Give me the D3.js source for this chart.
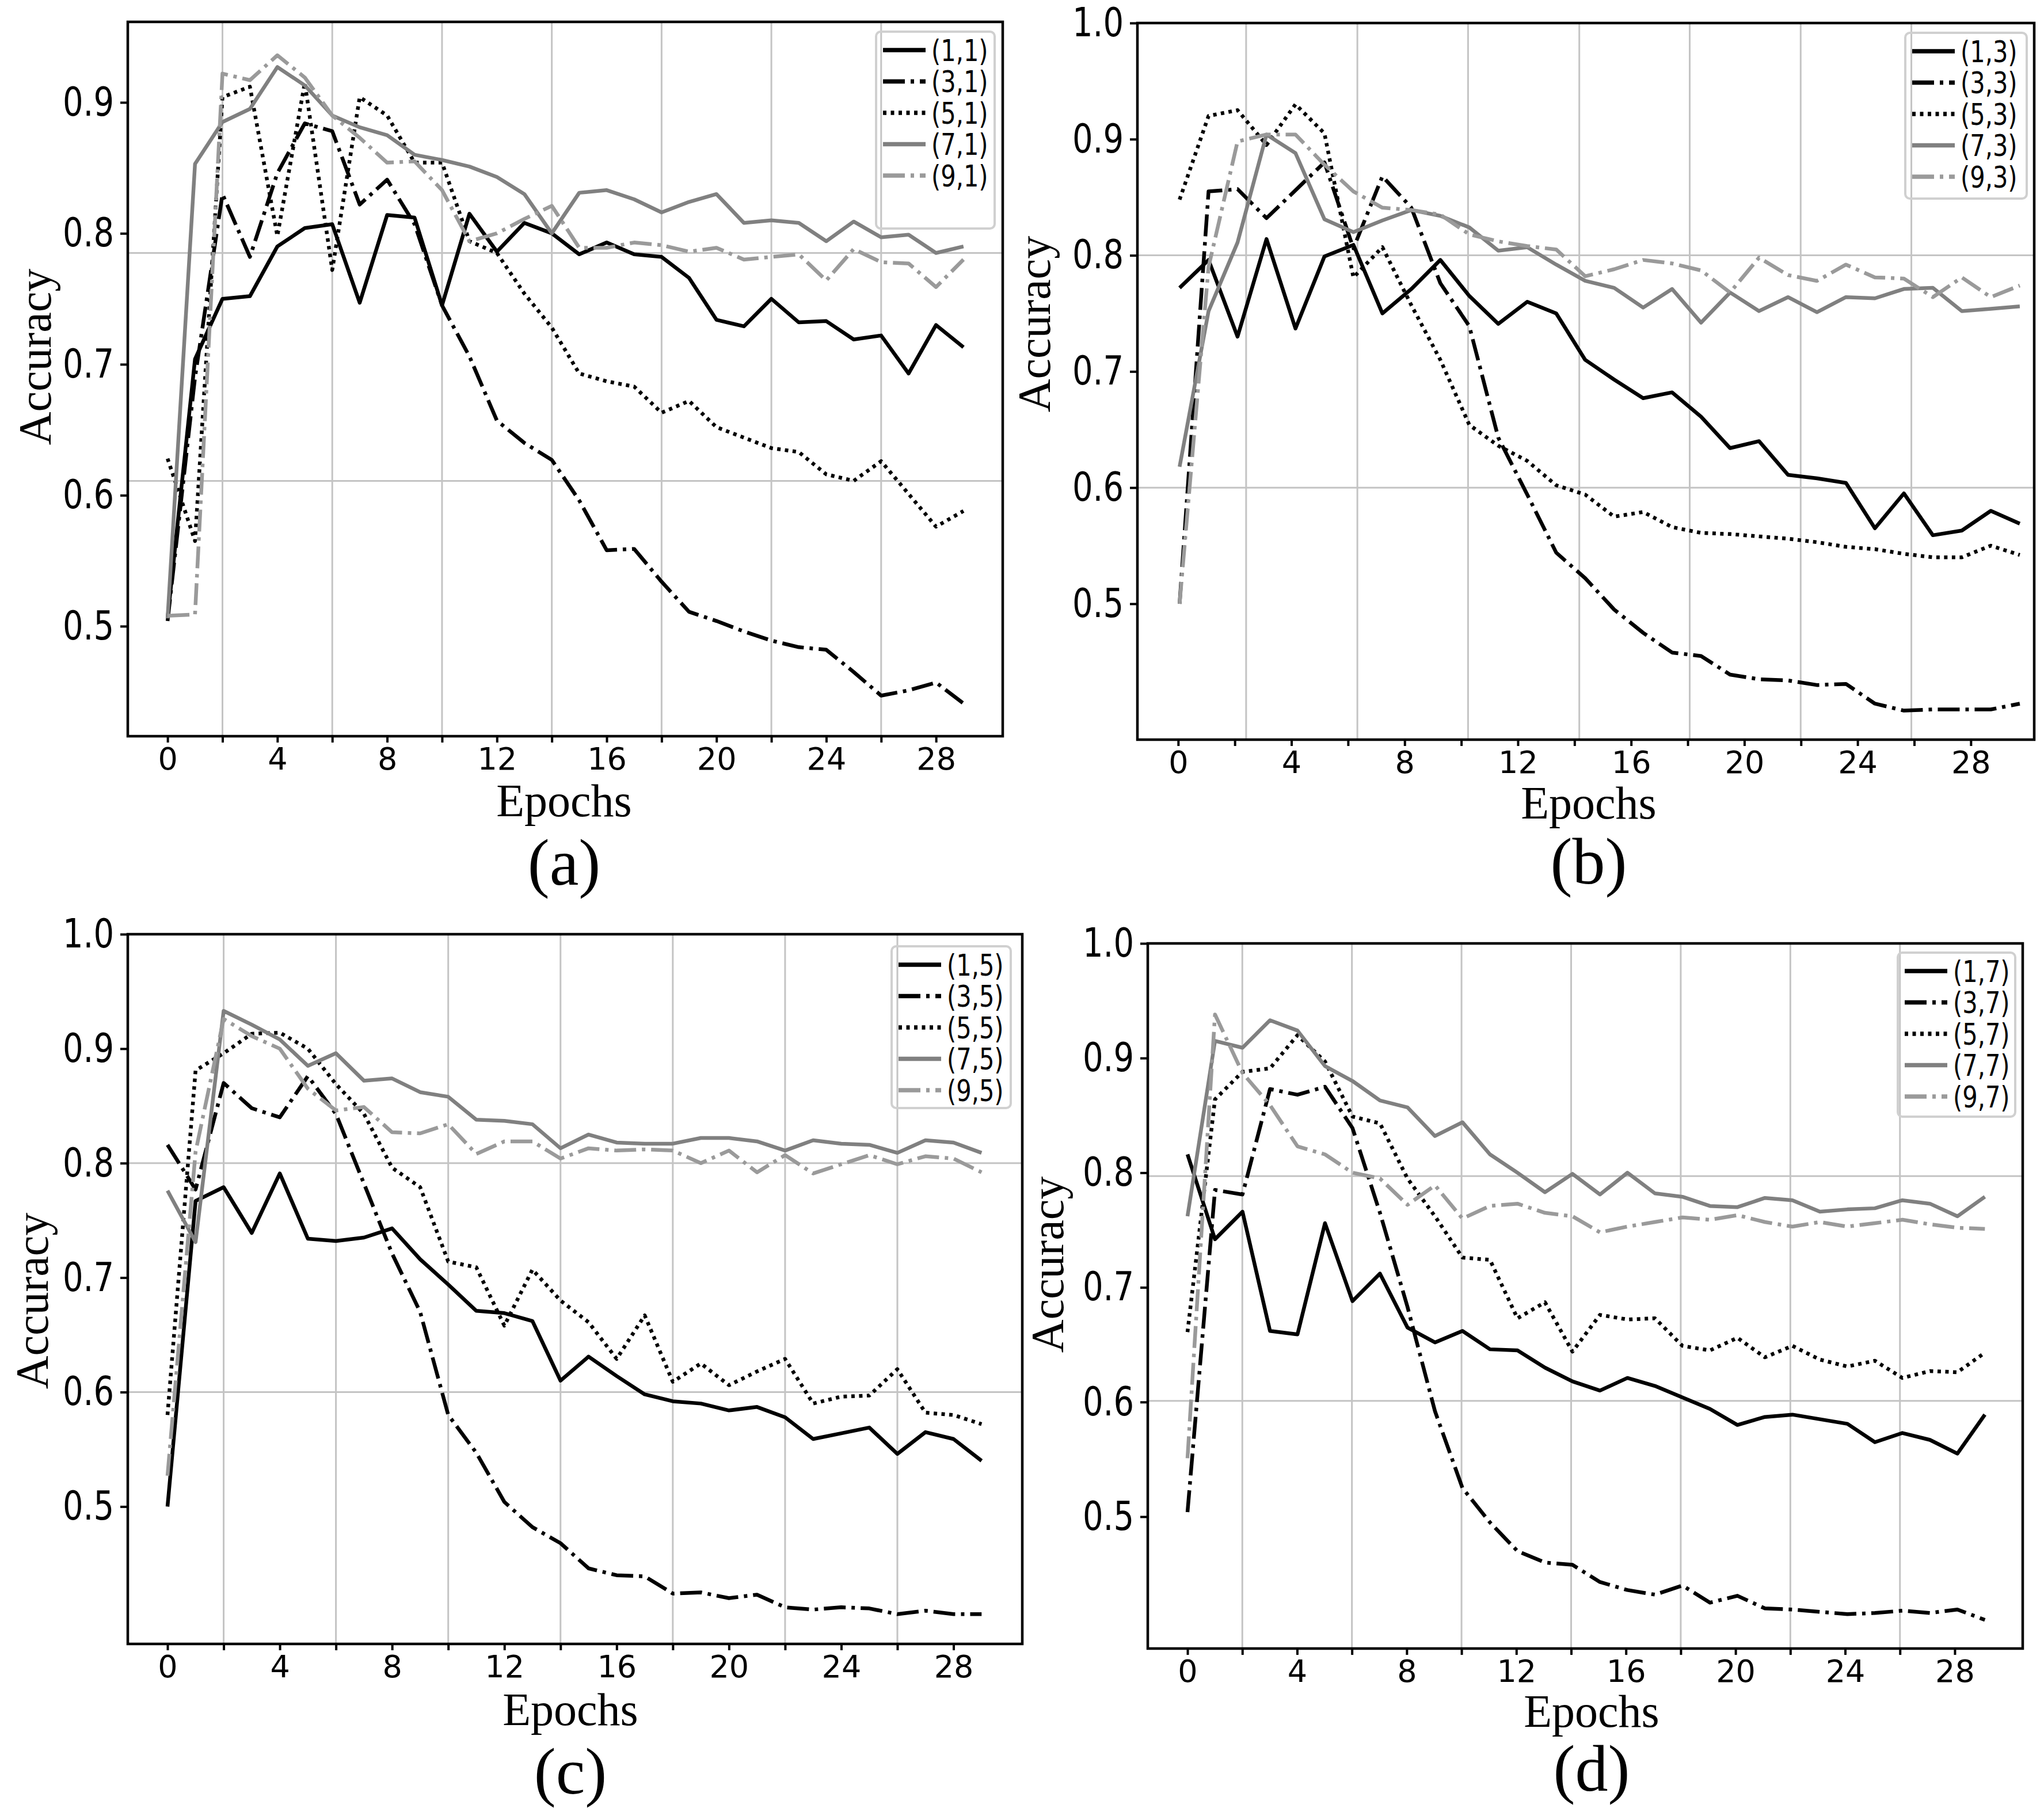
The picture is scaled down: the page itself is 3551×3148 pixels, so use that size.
<!DOCTYPE html>
<html>
<head>
<meta charset="utf-8">
<script src="https://cdn.jsdelivr.net/npm/d3@7"></script>
<style>
  body { margin: 0; background: #fff; }
</style>
</head>
<body>
<div id="chart"></div>
<script>
// Epoch index shared by every series
const epochs = [0,1,2,3,4,5,6,7,8,9,10,11,12,13,14,15,16,17,18,19,20,21,22,23,24,25,26,27,28,29];
const xTickValues = [0,2,4,6,8,10,12,14,16,18,20,22,24,26,28];
const yTicksA = [0.5,0.6,0.7,0.8,0.9];
const yTicksBCD = [0.5,0.6,0.7,0.8,0.9,1.0];

// (a) filter sizes (k,1)
const labelsA = ["(1,1)","(3,1)","(5,1)","(7,1)","(9,1)"];
const acc11 = [0.506,0.704,0.750,0.752,0.790,0.804,0.807,0.747,0.814,0.812,0.745,0.815,0.786,0.808,0.800,0.784,0.793,0.784,0.782,0.766,0.734,0.729,0.750,0.732,0.733,0.719,0.722,0.693,0.730,0.713];
const acc31 = [0.504,0.690,0.830,0.782,0.846,0.884,0.878,0.822,0.841,0.807,0.745,0.706,0.657,0.640,0.627,0.596,0.558,0.559,0.534,0.511,0.504,0.496,0.489,0.484,0.482,0.465,0.447,0.451,0.457,0.441];
const acc51 = [0.628,0.565,0.904,0.912,0.798,0.915,0.772,0.904,0.890,0.854,0.854,0.794,0.785,0.754,0.728,0.693,0.687,0.683,0.663,0.672,0.652,0.644,0.636,0.633,0.616,0.611,0.626,0.601,0.576,0.588];
const acc71 = [0.506,0.853,0.885,0.895,0.927,0.913,0.890,0.881,0.875,0.860,0.856,0.851,0.843,0.830,0.800,0.831,0.833,0.826,0.816,0.824,0.830,0.808,0.810,0.808,0.794,0.809,0.797,0.799,0.785,0.790];
const acc91 = [0.508,0.509,0.922,0.917,0.936,0.919,0.890,0.873,0.854,0.855,0.833,0.794,0.800,0.811,0.821,0.789,0.789,0.793,0.791,0.786,0.789,0.780,0.782,0.784,0.764,0.788,0.778,0.777,0.759,0.780];

// (b) filter sizes (k,3)
const labelsB = ["(1,3)","(3,3)","(5,3)","(7,3)","(9,3)"];
const acc13 = [0.772,0.796,0.730,0.814,0.737,0.799,0.809,0.750,0.771,0.796,0.765,0.741,0.760,0.750,0.710,0.693,0.677,0.682,0.661,0.634,0.640,0.611,0.608,0.604,0.565,0.595,0.559,0.563,0.580,0.569];
const acc33 = [0.500,0.855,0.857,0.832,0.856,0.880,0.806,0.868,0.841,0.776,0.739,0.643,0.594,0.544,0.522,0.495,0.475,0.458,0.455,0.439,0.435,0.434,0.430,0.431,0.414,0.408,0.409,0.409,0.409,0.414];
const acc53 = [0.848,0.920,0.925,0.895,0.930,0.905,0.781,0.807,0.757,0.710,0.654,0.636,0.623,0.602,0.594,0.575,0.579,0.566,0.561,0.560,0.558,0.556,0.553,0.549,0.547,0.543,0.540,0.540,0.550,0.542];
const acc73 = [0.618,0.752,0.811,0.904,0.888,0.831,0.820,0.830,0.839,0.834,0.824,0.804,0.807,0.792,0.778,0.772,0.755,0.771,0.742,0.768,0.752,0.764,0.751,0.764,0.763,0.771,0.772,0.752,0.754,0.756];
const acc93 = [0.500,0.790,0.898,0.904,0.904,0.878,0.855,0.841,0.839,0.835,0.818,0.812,0.808,0.805,0.782,0.788,0.796,0.793,0.787,0.768,0.798,0.783,0.778,0.792,0.781,0.780,0.764,0.781,0.764,0.774];

// (c) filter sizes (k,5)
const labelsC = ["(1,5)","(3,5)","(5,5)","(7,5)","(9,5)"];
const acc15 = [0.500,0.767,0.779,0.739,0.791,0.734,0.732,0.735,0.743,0.716,0.694,0.671,0.669,0.662,0.610,0.631,0.614,0.598,0.592,0.590,0.584,0.587,0.578,0.559,0.564,0.569,0.546,0.565,0.559,0.540];
const acc35 = [0.816,0.777,0.870,0.848,0.840,0.876,0.843,0.782,0.721,0.670,0.580,0.547,0.504,0.482,0.468,0.446,0.440,0.439,0.424,0.425,0.420,0.423,0.412,0.410,0.412,0.411,0.406,0.409,0.406,0.406];
const acc55 = [0.580,0.881,0.896,0.913,0.914,0.900,0.869,0.843,0.796,0.779,0.714,0.709,0.658,0.707,0.680,0.661,0.629,0.667,0.609,0.625,0.606,0.618,0.629,0.590,0.596,0.597,0.620,0.582,0.580,0.572];
const acc75 = [0.776,0.731,0.933,0.921,0.908,0.885,0.896,0.872,0.874,0.862,0.858,0.838,0.837,0.834,0.813,0.825,0.818,0.817,0.817,0.822,0.822,0.819,0.811,0.820,0.817,0.816,0.809,0.820,0.818,0.809];
const acc95 = [0.527,0.810,0.926,0.911,0.900,0.865,0.846,0.849,0.827,0.826,0.834,0.808,0.819,0.819,0.804,0.813,0.811,0.812,0.811,0.800,0.811,0.792,0.807,0.791,0.799,0.807,0.799,0.806,0.804,0.792];

// (d) filter sizes (k,7)
const labelsD = ["(1,7)","(3,7)","(5,7)","(7,7)","(9,7)"];
const acc17 = [0.816,0.742,0.766,0.662,0.659,0.756,0.688,0.712,0.665,0.652,0.662,0.646,0.645,0.630,0.618,0.610,0.621,0.614,0.604,0.594,0.580,0.587,0.589,0.585,0.581,0.565,0.573,0.567,0.555,0.589];
const acc37 = [0.504,0.785,0.781,0.873,0.868,0.875,0.839,0.765,0.683,0.592,0.525,0.495,0.470,0.460,0.458,0.443,0.436,0.432,0.440,0.425,0.431,0.420,0.419,0.417,0.415,0.416,0.418,0.416,0.419,0.410];
const acc57 = [0.661,0.864,0.888,0.891,0.920,0.897,0.849,0.843,0.795,0.762,0.726,0.724,0.673,0.687,0.644,0.676,0.672,0.673,0.649,0.645,0.656,0.639,0.649,0.637,0.631,0.636,0.621,0.627,0.626,0.643];
const acc77 = [0.762,0.915,0.909,0.933,0.924,0.893,0.880,0.863,0.857,0.832,0.844,0.816,0.800,0.783,0.799,0.781,0.800,0.782,0.779,0.771,0.770,0.778,0.776,0.766,0.768,0.769,0.776,0.773,0.762,0.779];
const acc97 = [0.551,0.938,0.887,0.859,0.823,0.816,0.800,0.795,0.772,0.789,0.760,0.771,0.773,0.765,0.762,0.748,0.753,0.757,0.761,0.759,0.763,0.757,0.753,0.757,0.753,0.756,0.759,0.755,0.752,0.751];

// line styles, same order in every panel
const lineStyles = [
  { color: "#000000", dash: null },
  { color: "#000000", dash: "38,10,6,10" },
  { color: "#000000", dash: "6,7.5" },
  { color: "#808080", dash: null },
  { color: "#9a9a9a", dash: "38,10,6,10" }
];

const W = 3551, H = 3148;
const svg = d3.select("#chart").append("svg")
    .attr("width", W)
    .attr("height", H)
    .style("background", "#fff");

// panel layout (pixels) - box = [left, right, top, bottom]
const panels = [
  { title: "(a)", box: [222, 1742, 38, 1279], xDom: [-1.45, 30.43], yDom: [0.416, 0.9615], dataX: [0, 29],
    yTicks: yTicksA, xGrid: [2,6,10,14,18,22,26], yGrid: [0.611, 0.785],
    series: [acc11, acc31, acc51, acc71, acc91], labels: labelsA,
    legend: { x: 1522, y: 55, w: 206, h: 342 }, accX: 88, accY: 620, labX: 980, epochsY: 1418, titleY: 1537 },
  { title: "(b)", box: [1976, 3534, 40, 1285], xDom: [-1.44, 30.24], yDom: [0.383, 1.0], dataX: [0.05, 29.73],
    yTicks: yTicksBCD, xGrid: [2.40,6.33,10.24,14.17,18.07,21.99,25.9], yGrid: [0.6, 0.8],
    series: [acc13, acc33, acc53, acc73, acc93], labels: labelsB,
    legend: { x: 3310, y: 57, w: 211, h: 288 }, accX: 1824, accY: 563, labX: 2760, epochsY: 1422, titleY: 1535 },
  { title: "(c)", box: [222, 1776, 1623, 2856], xDom: [-1.415, 30.45], yDom: [0.38, 1.0], dataX: [0, 29],
    yTicks: yTicksBCD, xGrid: [2,6,10,14,18,22,26], yGrid: [0.6, 0.8],
    series: [acc15, acc35, acc55, acc75, acc95], labels: labelsC,
    legend: { x: 1549, y: 1644, w: 207, h: 281 }, accX: 83, accY: 2260, labX: 991, epochsY: 2997, titleY: 3116 },
  { title: "(d)", box: [1994, 3514, 1639, 2864], xDom: [-1.45, 30.48], yDom: [0.385, 1.0], dataX: [0, 29.1],
    yTicks: yTicksBCD, xGrid: [2,6,10,14,18,22,26], yGrid: [0.601, 0.797],
    series: [acc17, acc37, acc57, acc77, acc97], labels: labelsD,
    legend: { x: 3297, y: 1655, w: 204, h: 285 }, accX: 1847, accY: 2197, labX: 2765, epochsY: 3000, titleY: 3111 }
];

const yLabelScale = 0.8;
const legendScale = 0.8;

panels.forEach(p => {
  const [x0, x1, y0, y1] = p.box;
  const x = d3.scaleLinear().domain(p.xDom).range([x0, x1]);
  const y = d3.scaleLinear().domain(p.yDom).range([y1, y0]);
  // data epochs are placed slightly differently from the labels in some panels
  const xd = d3.scaleLinear().domain([0, 29]).range([x(p.dataX[0]), x(p.dataX[1])]);

  const g = svg.append("g");

  // grid
  g.selectAll(".vgrid").data(p.xGrid).join("line")
      .attr("x1", d => x(d)).attr("x2", d => x(d))
      .attr("y1", y0).attr("y2", y1)
      .attr("stroke", "#c4c4c4").attr("stroke-width", 3);
  g.selectAll(".hgrid").data(p.yGrid).join("line")
      .attr("x1", x0).attr("x2", x1)
      .attr("y1", d => y(d)).attr("y2", d => y(d))
      .attr("stroke", "#c4c4c4").attr("stroke-width", 3);

  // series
  const line = d3.line()
      .x((d, i) => xd(epochs[i]))
      .y(d => y(d));

  p.series.forEach((vals, k) => {
    g.append("path")
        .datum(vals)
        .attr("d", line)
        .attr("fill", "none")
        .attr("stroke", lineStyles[k].color)
        .attr("stroke-width", 6.5)
        .attr("stroke-linejoin", "round")
        .attr("stroke-dasharray", lineStyles[k].dash);
  });

  // frame
  g.append("rect")
      .attr("x", x0).attr("y", y0)
      .attr("width", x1 - x0).attr("height", y1 - y0)
      .attr("fill", "none").attr("stroke", "#000").attr("stroke-width", 4.5);

  // x axis
  const xAxis = g.append("g")
      .attr("transform", `translate(0,${y1})`)
      .call(d3.axisBottom(x).tickValues(xTickValues)
        .tickFormat(d => d % 4 === 0 ? d : "")
        .tickSize(11).tickSizeOuter(0));
  xAxis.select(".domain").remove();
  xAxis.selectAll("line").attr("stroke", "#000").attr("stroke-width", 4);
  xAxis.selectAll("text")
      .attr("y", 20)
      .attr("fill", "#000")
      .style("font-family", "'DejaVu Sans', sans-serif")
      .style("font-size", "54px");

  // y axis
  const yAxis = g.append("g")
      .attr("transform", `translate(${x0},0)`)
      .call(d3.axisLeft(y).tickValues(p.yTicks)
        .tickFormat(d3.format(".1f"))
        .tickSize(13).tickSizeOuter(0));
  yAxis.select(".domain").remove();
  yAxis.selectAll("line").attr("stroke", "#000").attr("stroke-width", 4);
  yAxis.selectAll("text")
      .attr("x", -24 / yLabelScale)
      .attr("transform", `scale(${yLabelScale},1)`)
      .attr("fill", "#000")
      .style("font-family", "'DejaVu Sans', sans-serif")
      .style("font-size", "70px");

  // axis titles
  g.append("text")
      .attr("x", p.labX).attr("y", p.epochsY)
      .attr("text-anchor", "middle")
      .style("font-family", "'Liberation Serif', 'Times New Roman', serif")
      .style("font-size", "80px")
      .text("Epochs");
  g.append("text")
      .attr("transform", `translate(${p.accX},${p.accY}) rotate(-90)`)
      .attr("text-anchor", "middle")
      .style("font-family", "'Liberation Serif', 'Times New Roman', serif")
      .style("font-size", "80px")
      .text("Accuracy");
  g.append("text")
      .attr("x", p.labX).attr("y", p.titleY)
      .attr("text-anchor", "middle")
      .style("font-family", "'Liberation Serif', 'Times New Roman', serif")
      .style("font-size", "114px")
      .text(p.title);

  // legend
  const lg = g.append("g").attr("transform", `translate(${p.legend.x},${p.legend.y})`);
  lg.append("rect")
      .attr("width", p.legend.w).attr("height", p.legend.h)
      .attr("rx", 8)
      .attr("fill", "none").attr("stroke", "#d0d0d0").attr("stroke-width", 4);
  p.labels.forEach((lab, k) => {
    const ry = 32 + k * 54.5;
    lg.append("line")
        .attr("x1", 12).attr("x2", 86)
        .attr("y1", ry).attr("y2", ry)
        .attr("stroke", lineStyles[k].color)
        .attr("stroke-width", 7.5)
        .attr("stroke-dasharray", lineStyles[k].dash);
    lg.append("text")
        .attr("transform", `translate(96,${ry}) scale(${legendScale},1)`)
        .attr("dy", "0.36em")
        .style("font-family", "'DejaVu Sans', sans-serif")
        .style("font-size", "52px")
        .text(lab);
  });
});
</script>
</body>
</html>
